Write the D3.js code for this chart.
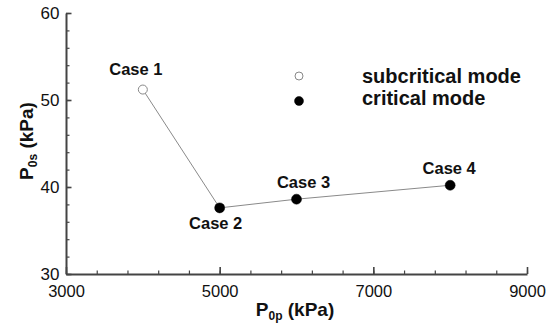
<!DOCTYPE html>
<html>
<head>
<meta charset="utf-8">
<script src="https://cdn.jsdelivr.net/npm/d3@7"></script>
<style>
  body { margin: 0; background: #fff; }
  svg { display: block; font-family: "Liberation Sans", Arial, sans-serif; }
</style>
</head>
<body>
<svg id="chart" width="552" height="327"></svg>
<script>
// data
const cases = ['Case 1', 'Case 2', 'Case 3', 'Case 4'];
const p0p = [4000, 5000, 6000, 8000];      // kPa
const p0s = [51.2, 37.6, 38.6, 40.2];      // kPa
const modes = ['subcritical', 'critical', 'critical', 'critical'];

const xMajor = [3000, 5000, 7000, 9000];
const yMajor = [30, 40, 50, 60];
const legendItems = ['subcritical mode', 'critical mode'];

// label nudges relative to each point
const labelOffsets = [[-7, -15], [-4, 21], [7, -11], [-1, -11]];

const svg = d3.select('#chart');

const x = d3.scaleLinear().domain([3000, 9000]).range([66, 527]);
const y = d3.scaleLinear().domain([30, 60]).range([274, 13]);

const axisColor = '#444';

// minor ticks first, underneath
svg.append('g')
  .attr('transform', 'translate(0,274)')
  .call(d3.axisBottom(x).tickValues(d3.range(3000, 9001, 400)).tickSize(-3.5).tickFormat(''))
  .call(g => g.select('.domain').remove())
  .call(g => g.selectAll('line').attr('stroke', axisColor).attr('stroke-width', 1.2));

svg.append('g')
  .attr('transform', 'translate(66,0)')
  .call(d3.axisLeft(y).tickValues(d3.range(30, 60.1, 2)).tickSize(-3.5).tickFormat(''))
  .call(g => g.select('.domain').remove())
  .call(g => g.selectAll('line').attr('stroke', axisColor).attr('stroke-width', 1.2));

// major ticks + labels
const xAxis = svg.append('g')
  .attr('transform', 'translate(0,274)')
  .call(d3.axisBottom(x).tickValues(xMajor).tickSizeInner(-7).tickSizeOuter(0).tickPadding(11).tickFormat(d3.format('d')));

const yAxis = svg.append('g')
  .attr('transform', 'translate(66,0)')
  .call(d3.axisLeft(y).tickValues(yMajor).tickSizeInner(-5.5).tickSizeOuter(0).tickPadding(6.5).tickFormat(d3.format('d')));

[xAxis, yAxis].forEach(g => {
  g.select('.domain').attr('stroke', axisColor).attr('stroke-width', 2);
  g.selectAll('line').attr('stroke', axisColor).attr('stroke-width', 1.6);
  g.selectAll('text')
    .attr('fill', '#111')
    .style('font-family', '"Liberation Sans", Arial, sans-serif')
    .style('font-size', '16.5px');
});
yAxis.selectAll('text').style('font-size', '17px');

// axis titles
const xTitle = svg.append('text')
  .attr('x', 295).attr('y', 316)
  .attr('text-anchor', 'middle')
  .attr('font-weight', 'bold')
  .attr('font-size', 19)
  .attr('fill', '#111');
xTitle.append('tspan').text('P');
xTitle.append('tspan').attr('font-size', 12).attr('dy', 4).text('0p');
xTitle.append('tspan').attr('dy', -4).text(' (kPa)');

const yTitle = svg.append('text')
  .attr('transform', 'translate(33,141) rotate(-90)')
  .attr('text-anchor', 'middle')
  .attr('font-weight', 'bold')
  .attr('font-size', 19)
  .attr('fill', '#111');
yTitle.append('tspan').text('P');
yTitle.append('tspan').attr('font-size', 12).attr('dy', 4).text('0s');
yTitle.append('tspan').attr('dy', -4).text(' (kPa)');

// connecting line
const pts = p0p.map((v, i) => [v, p0s[i]]);
svg.append('path')
  .datum(pts)
  .attr('fill', 'none')
  .attr('stroke', '#8a8a8a')
  .attr('stroke-width', 1)
  .attr('d', d3.line().x(d => x(d[0])).y(d => y(d[1])));

// markers
svg.selectAll('circle.pt')
  .data(pts)
  .join('circle')
  .attr('class', 'pt')
  .attr('cx', d => x(d[0]))
  .attr('cy', d => y(d[1]))
  .attr('r', (d, i) => modes[i] === 'critical' ? 5 : 4.5)
  .attr('fill', (d, i) => modes[i] === 'critical' ? '#000' : '#fff')
  .attr('stroke', (d, i) => modes[i] === 'critical' ? '#000' : '#888')
  .attr('stroke-width', (d, i) => modes[i] === 'critical' ? 0.5 : 1);

// case labels
svg.selectAll('text.case')
  .data(pts)
  .join('text')
  .attr('class', 'case')
  .attr('x', (d, i) => x(d[0]) + labelOffsets[i][0])
  .attr('y', (d, i) => y(d[1]) + labelOffsets[i][1])
  .attr('text-anchor', 'middle')
  .attr('font-weight', 'bold')
  .attr('font-size', 16.5)
  .attr('fill', '#111')
  .text((d, i) => cases[i]);

// legend
const legend = svg.append('g');
legendItems.forEach((label, i) => {
  const cy = 76 + i * 25;
  legend.append('circle')
    .attr('cx', 299).attr('cy', cy)
    .attr('r', i === 0 ? 4 : 4.5)
    .attr('fill', i === 0 ? '#fff' : '#000')
    .attr('stroke', i === 0 ? '#888' : '#000')
    .attr('stroke-width', i === 0 ? 1 : 0.5);
  legend.append('text')
    .attr('x', 362).attr('y', 83 + i * 22)
    .attr('font-weight', 'bold')
    .attr('font-size', 20)
    .attr('fill', '#111')
    .text(label);
});
</script>
</body>
</html>
